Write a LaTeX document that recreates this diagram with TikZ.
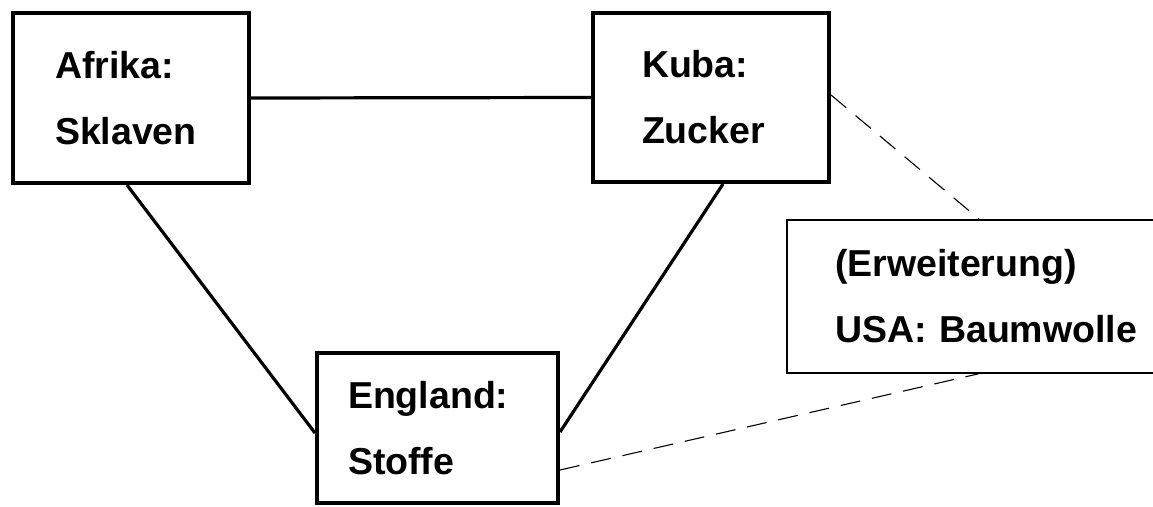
\documentclass[tikz,border=0pt]{standalone}
\usepackage{fontspec}
\setmainfont{Liberation Sans}

\begin{document}
\begin{tikzpicture}[x=1pt, y=-1pt,
	land/.style={draw, line width=4pt, align=left, font=\fontsize{37.5}{66}\selectfont\bfseries},
	landext/.style={land, line width=1.2pt},
	link/.style={line width=3.2pt},
	extra/.style={line width=1.1pt, dash pattern=on 20pt off 12pt}]
\useasboundingbox (0,0) rectangle (1153,506);
% draw boxes
	\node[land, minimum width=236pt, minimum height=170pt, inner xsep=42pt, text width=152pt] (afrika) at (131,98) {Afrika:\\Sklaven};
	\node[land, minimum width=236pt, minimum height=169pt, inner xsep=49pt, text width=138pt] (kuba) at (711,97.5) {Kuba:\\Zucker};
	\node[land, minimum width=241pt, minimum height=150pt, inner xsep=31pt, text width=179pt] (england) at (437.5,428) {England:\\Stoffe};
	\node[landext, minimum width=420pt, minimum height=153pt, inner xsep=48pt, text width=324pt] (usa) at (997,296.5) {(Erweiterung)\\USA: Baumwolle};
% draw triangle
	\draw[link] (afrika.east) -- (kuba.west);
	\draw[link] ([xshift=-4pt]afrika.south) -- ([yshift=-5pt]england.west);
	\draw[link] ([xshift=12pt]kuba.south) -- ([yshift=-4pt]england.east);
% extension lines
	\draw[extra] ([yshift=2.5pt]kuba.east) -- ([xshift=193pt]usa.north west);
	\draw[extra] ([yshift=-42pt]england.east) -- ([xshift=193pt]usa.south west);
\end{tikzpicture}
\end{document}
